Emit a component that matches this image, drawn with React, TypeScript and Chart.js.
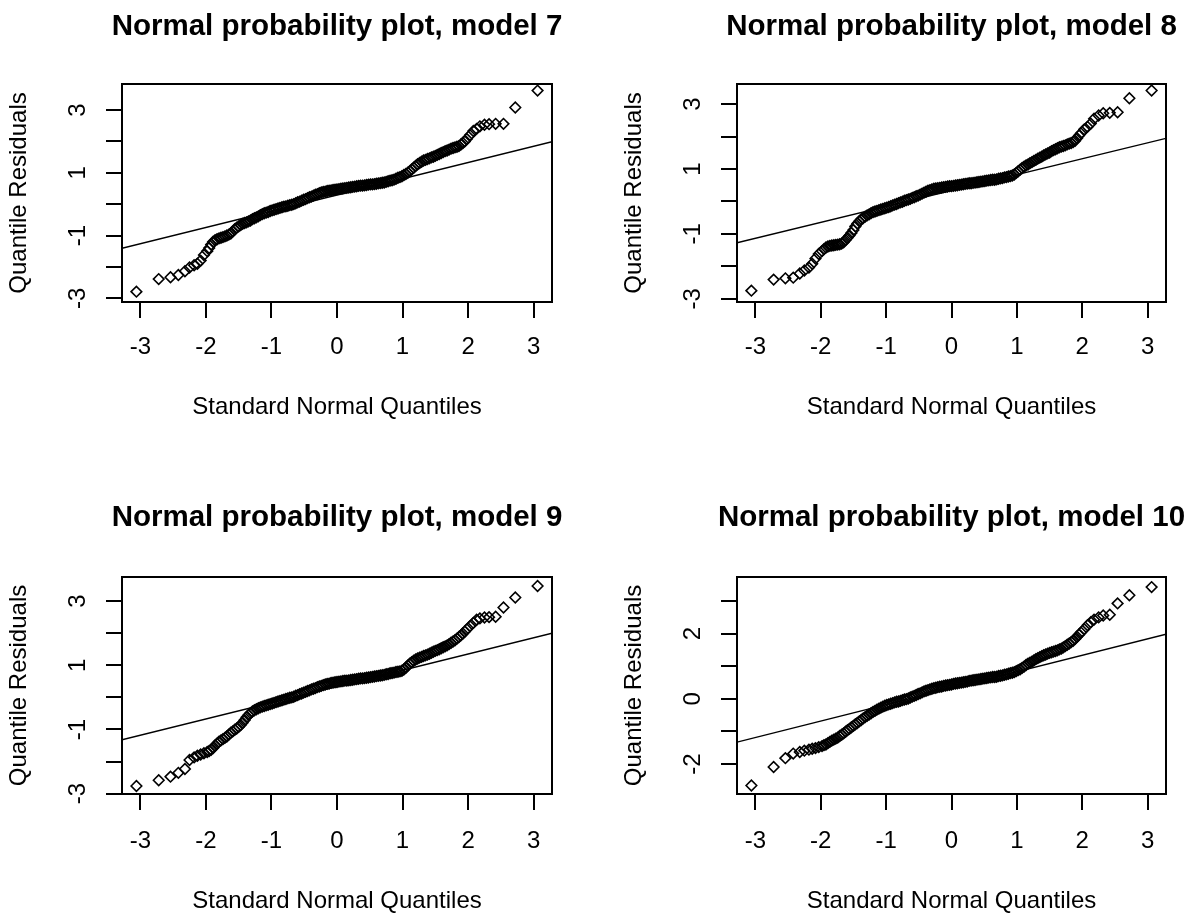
import React, { useEffect, useRef } from "react";
import { Chart, registerables } from "chart.js";

Chart.register(...registerables);

const FONT = "'Liberation Sans', Arial, Helvetica, sans-serif";

// Theoretical standard normal quantiles (shared by all four models)
const QUANTILES = [
  -3.06, -2.72, -2.54, -2.42, -2.32, -2.25, -2.18, -2.13, -2.08, -2.03,
  -1.98, -1.95, -1.92, -1.89, -1.86, -1.83, -1.80, -1.77, -1.74, -1.71, -1.68,
  -1.65, -1.62, -1.59, -1.56, -1.53, -1.50, -1.47, -1.44, -1.41, -1.38, -1.35,
  -1.32, -1.29, -1.26, -1.23, -1.20, -1.17, -1.14, -1.11, -1.08, -1.05, -1.02,
  -0.99, -0.96, -0.93, -0.90, -0.87, -0.84, -0.81, -0.78, -0.75, -0.72, -0.69,
  -0.66, -0.63, -0.60, -0.57, -0.54, -0.51, -0.48, -0.45, -0.42, -0.39, -0.36,
  -0.33, -0.30, -0.27, -0.24, -0.21, -0.18, -0.15, -0.12, -0.09, -0.06, -0.03,
  0.00, 0.03, 0.06, 0.09, 0.12, 0.15, 0.18, 0.21, 0.24, 0.27, 0.30,
  0.33, 0.36, 0.39, 0.42, 0.45, 0.48, 0.51, 0.54, 0.57, 0.60, 0.63,
  0.66, 0.69, 0.72, 0.75, 0.78, 0.81, 0.84, 0.87, 0.90, 0.93, 0.96,
  0.99, 1.02, 1.05, 1.08, 1.11, 1.14, 1.17, 1.20, 1.23, 1.26, 1.29,
  1.32, 1.35, 1.38, 1.41, 1.44, 1.47, 1.50, 1.53, 1.56, 1.59, 1.62,
  1.65, 1.68, 1.71, 1.74, 1.77, 1.80, 1.83, 1.86, 1.89, 1.92, 1.95,
  1.98, 2.03, 2.08, 2.13, 2.18, 2.25, 2.32, 2.42, 2.54, 2.72, 3.06,
];

// Sorted quantile residuals, one array per model
const RESID_M7 = [
  -2.79, -2.39, -2.33, -2.26, -2.14, -2.02, -1.95, -1.90, -1.80, -1.62,
  -1.50, -1.40, -1.29, -1.20, -1.15, -1.12, -1.09, -1.07, -1.05, -1.03, -1.00,
  -0.97, -0.94, -0.87, -0.80, -0.75, -0.71, -0.67, -0.63, -0.60, -0.58, -0.55,
  -0.52, -0.48, -0.45, -0.42, -0.39, -0.35, -0.32, -0.29, -0.27, -0.25, -0.22,
  -0.20, -0.18, -0.16, -0.14, -0.12, -0.10, -0.08, -0.07, -0.05, -0.03, -0.02,
  0.00, 0.03, 0.06, 0.08, 0.11, 0.14, 0.16, 0.19, 0.22, 0.24, 0.27,
  0.30, 0.32, 0.35, 0.37, 0.39, 0.40, 0.42, 0.43, 0.44, 0.45, 0.46,
  0.47, 0.48, 0.49, 0.50, 0.51, 0.52, 0.53, 0.54, 0.55, 0.56, 0.57,
  0.58, 0.59, 0.59, 0.60, 0.61, 0.62, 0.63, 0.63, 0.64, 0.65, 0.66,
  0.67, 0.68, 0.69, 0.71, 0.73, 0.75, 0.76, 0.78, 0.81, 0.84, 0.86,
  0.89, 0.93, 0.96, 1.00, 1.05, 1.11, 1.16, 1.22, 1.27, 1.31, 1.35,
  1.39, 1.41, 1.44, 1.46, 1.49, 1.51, 1.54, 1.57, 1.60, 1.63, 1.66,
  1.69, 1.71, 1.74, 1.77, 1.79, 1.81, 1.83, 1.85, 1.90, 1.95, 2.00,
  2.08, 2.20, 2.33, 2.40, 2.48, 2.53, 2.55, 2.56, 2.56, 3.08, 3.62,
];

const RESID_M8 = [
  -2.75, -2.41, -2.37, -2.35, -2.22, -2.13, -2.04, -1.92, -1.76, -1.62,
  -1.53, -1.47, -1.42, -1.39, -1.37, -1.36, -1.35, -1.34, -1.33, -1.32, -1.30,
  -1.26, -1.19, -1.12, -1.05, -0.97, -0.88, -0.77, -0.68, -0.61, -0.55, -0.51,
  -0.47, -0.43, -0.40, -0.36, -0.33, -0.31, -0.29, -0.27, -0.25, -0.23, -0.21,
  -0.19, -0.17, -0.15, -0.12, -0.10, -0.08, -0.05, -0.03, -0.01, 0.02, 0.04,
  0.06, 0.08, 0.11, 0.13, 0.16, 0.18, 0.21, 0.24, 0.27, 0.30, 0.33,
  0.35, 0.37, 0.39, 0.40, 0.41, 0.42, 0.43, 0.44, 0.45, 0.46, 0.47,
  0.47, 0.48, 0.49, 0.50, 0.51, 0.52, 0.53, 0.54, 0.55, 0.56, 0.56,
  0.57, 0.58, 0.59, 0.60, 0.61, 0.62, 0.63, 0.64, 0.65, 0.66, 0.67,
  0.67, 0.68, 0.70, 0.71, 0.72, 0.74, 0.75, 0.77, 0.78, 0.80, 0.83,
  0.88, 0.93, 0.98, 1.03, 1.07, 1.11, 1.14, 1.18, 1.21, 1.25, 1.28,
  1.32, 1.35, 1.38, 1.42, 1.45, 1.48, 1.51, 1.55, 1.58, 1.61, 1.64,
  1.67, 1.69, 1.71, 1.73, 1.76, 1.78, 1.80, 1.83, 1.87, 1.95, 2.03,
  2.10, 2.22, 2.30, 2.40, 2.55, 2.65, 2.72, 2.73, 2.75, 3.18, 3.42,
];

const RESID_M9 = [
  -2.76, -2.58, -2.47, -2.35, -2.23, -1.95, -1.87, -1.82, -1.78, -1.74,
  -1.70, -1.67, -1.63, -1.58, -1.50, -1.44, -1.38, -1.34, -1.30, -1.26, -1.22,
  -1.16, -1.10, -1.06, -1.01, -0.97, -0.92, -0.86, -0.79, -0.71, -0.62, -0.55,
  -0.49, -0.44, -0.40, -0.37, -0.34, -0.31, -0.29, -0.27, -0.25, -0.23, -0.21,
  -0.19, -0.17, -0.15, -0.13, -0.11, -0.09, -0.07, -0.05, -0.03, -0.01, 0.00,
  0.02, 0.05, 0.07, 0.10, 0.12, 0.15, 0.17, 0.20, 0.22, 0.25, 0.27,
  0.29, 0.32, 0.34, 0.36, 0.38, 0.40, 0.42, 0.43, 0.45, 0.46, 0.47,
  0.48, 0.49, 0.50, 0.51, 0.52, 0.52, 0.53, 0.54, 0.55, 0.56, 0.57,
  0.58, 0.59, 0.59, 0.60, 0.61, 0.62, 0.63, 0.64, 0.65, 0.66, 0.67,
  0.68, 0.69, 0.70, 0.72, 0.73, 0.75, 0.76, 0.77, 0.79, 0.80, 0.81,
  0.83, 0.87, 0.92, 0.99, 1.05, 1.10, 1.14, 1.18, 1.21, 1.24, 1.26,
  1.29, 1.31, 1.33, 1.36, 1.39, 1.42, 1.45, 1.47, 1.50, 1.53, 1.56,
  1.59, 1.62, 1.66, 1.70, 1.74, 1.78, 1.83, 1.88, 1.93, 1.99, 2.05,
  2.12, 2.22, 2.32, 2.42, 2.46, 2.49, 2.50, 2.51, 2.80, 3.11, 3.47,
];

const RESID_M10 = [
  -2.66, -2.09, -1.82, -1.68, -1.63, -1.59, -1.56, -1.53, -1.51, -1.48,
  -1.45, -1.42, -1.40, -1.36, -1.32, -1.28, -1.25, -1.22, -1.19, -1.14, -1.10,
  -1.06, -1.01, -0.96, -0.92, -0.87, -0.83, -0.78, -0.74, -0.69, -0.65, -0.60,
  -0.56, -0.52, -0.48, -0.44, -0.40, -0.37, -0.33, -0.30, -0.27, -0.24, -0.21,
  -0.19, -0.17, -0.15, -0.13, -0.11, -0.09, -0.08, -0.06, -0.04, -0.02, -0.01,
  0.01, 0.04, 0.07, 0.09, 0.12, 0.15, 0.17, 0.20, 0.23, 0.25, 0.27,
  0.29, 0.31, 0.33, 0.34, 0.36, 0.37, 0.38, 0.40, 0.41, 0.42, 0.43,
  0.44, 0.46, 0.47, 0.48, 0.49, 0.50, 0.51, 0.52, 0.53, 0.55, 0.56,
  0.57, 0.58, 0.59, 0.60, 0.61, 0.62, 0.63, 0.64, 0.65, 0.66, 0.67,
  0.67, 0.68, 0.70, 0.71, 0.72, 0.74, 0.75, 0.77, 0.79, 0.80, 0.82,
  0.85, 0.88, 0.91, 0.95, 0.99, 1.04, 1.08, 1.11, 1.14, 1.18, 1.22,
  1.25, 1.28, 1.31, 1.34, 1.36, 1.39, 1.41, 1.43, 1.45, 1.47, 1.49,
  1.52, 1.54, 1.58, 1.62, 1.66, 1.70, 1.74, 1.78, 1.84, 1.91, 1.97,
  2.04, 2.14, 2.26, 2.35, 2.43, 2.50, 2.56, 2.58, 2.93, 3.18, 3.43,
];

const MODEL_NAMES = ["model 7", "model 8", "model 9", "model 10"];
const RESIDUALS = [RESID_M7, RESID_M8, RESID_M9, RESID_M10];

// Reference lines through the quartiles
const QQLINE_INTERCEPT = [0.2925, 0.335, 0.34, 0.327];
const QQLINE_SLOPE = [0.5175, 0.491, 0.506, 0.505];

// Axis ranges and labelled y ticks
const X_MIN = -3.28;
const X_MAX = 3.28;
const Y_MIN = [-3.12, -3.1, -3.01, -2.92];
const Y_MAX = [3.83, 3.62, 3.75, 3.74];
const Y_LABELLED = [
  [-3, -1, 1, 3],
  [-3, -1, 1, 3],
  [-3, -1, 1, 3],
  [-2, 0, 2],
];

// Left margin of each panel (y axis + labels); mirrored on the right so the
// title is centred over the plot box
const SIDE = 122;

// Panel placement on the page (pixels); box is the plot frame inside the canvas
const PANELS = [
  { left: 0, top: 0, boxW: 430, height: 493, boxT: 84, boxB: 302, titleCenter: 26.5, xLabelGap: 45.3, xTitleGap: 105 },
  { left: 615, top: 0, boxW: 429, height: 493, boxT: 84, boxB: 302, titleCenter: 26.5, xLabelGap: 45.3, xTitleGap: 105 },
  { left: 0, top: 493, boxW: 430, height: 426, boxT: 84, boxB: 301, titleCenter: 25, xLabelGap: 47.5, xTitleGap: 107.7 },
  { left: 615, top: 493, boxW: 429, height: 426, boxT: 84, boxB: 301, titleCenter: 25, xLabelGap: 47.5, xTitleGap: 107.7 },
];

const TITLE_SIZE = 29.5;
const AXIS_SIZE = 24;
const TICK_LEN = 16;
const Y_LABEL_GAP = 44;
const Y_TITLE_CENTER = 19;

const frame = {
  id: "frame",
  afterDraw(chart: any) {
    const { ctx, chartArea } = chart;
    ctx.save();
    ctx.strokeStyle = "#000";
    ctx.lineWidth = 2;
    ctx.strokeRect(chartArea.left, chartArea.top, chartArea.right - chartArea.left, chartArea.bottom - chartArea.top);
    ctx.restore();
  },
};

function QQPanel({ index }: { index: number }) {
  const ref = useRef<HTMLCanvasElement | null>(null);
  const p = PANELS[index];
  const width = SIDE * 2 + p.boxW;

  useEffect(() => {
    const canvas = ref.current;
    if (!canvas) return;
    const resid = RESIDUALS[index];
    const points = QUANTILES.map((q, i) => ({ x: q, y: resid[i] }));
    const a = QQLINE_INTERCEPT[index];
    const b = QQLINE_SLOPE[index];
    const line = [
      { x: X_MIN, y: a + b * X_MIN },
      { x: X_MAX, y: a + b * X_MAX },
    ];
    const labelled = Y_LABELLED[index];
    const axisLine = AXIS_SIZE * 1.2;
    const titleLine = TITLE_SIZE * 1.2;
    const widest = AXIS_SIZE * 0.889;

    const chart = new Chart(canvas, {
      type: "scatter",
      data: {
        datasets: [
          {
            data: line,
            showLine: true,
            borderColor: "#000",
            borderWidth: 1.4,
            pointRadius: 0,
            order: 0,
          },
          {
            data: points,
            showLine: false,
            pointStyle: "rectRot",
            pointRadius: 5.3,
            pointBorderWidth: 1.6,
            pointBorderColor: "#000",
            pointBackgroundColor: "rgba(0,0,0,0)",
            order: 1,
          },
        ],
      },
      options: {
        animation: false,
        responsive: false,
        devicePixelRatio: 1,
        events: [],
        layout: { padding: 0 },
        plugins: {
          legend: { display: false },
          tooltip: { enabled: false },
          title: {
            display: true,
            text: `Normal probability plot, ${MODEL_NAMES[index]}`,
            fullSize: true,
            color: "#000",
            font: { family: FONT, size: TITLE_SIZE, weight: "bold" },
            padding: { top: p.titleCenter - titleLine / 2, bottom: p.boxT - p.titleCenter - titleLine / 2 },
          },
        },
        scales: {
          x: {
            type: "linear",
            min: X_MIN,
            max: X_MAX,
            afterFit: (s: any) => {
              s.height = p.height - p.boxB;
            },
            ticks: {
              stepSize: 1,
              includeBounds: false,
              autoSkip: false,
              minRotation: 0,
              maxRotation: 0,
              color: "#000",
              font: { family: FONT, size: AXIS_SIZE },
              padding: p.xLabelGap - TICK_LEN - axisLine / 2,
              callback: (v: any) => String(v),
            },
            grid: { drawOnChartArea: false, drawTicks: true, tickLength: TICK_LEN, color: "#000", lineWidth: 2 },
            border: { display: true, color: "#000", width: 2 },
            title: {
              display: true,
              text: "Standard Normal Quantiles",
              color: "#000",
              font: { family: FONT, size: AXIS_SIZE },
              padding: { top: 0, bottom: p.height - p.boxB - p.xTitleGap - axisLine / 2 },
            },
          },
          y: {
            type: "linear",
            min: Y_MIN[index],
            max: Y_MAX[index],
            afterFit: (s: any) => {
              s.width = SIDE;
            },
            ticks: {
              stepSize: 1,
              includeBounds: false,
              autoSkip: false,
              minRotation: 90,
              maxRotation: 90,
              crossAlign: "center",
              color: "#000",
              font: { family: FONT, size: AXIS_SIZE },
              padding: Y_LABEL_GAP - TICK_LEN - widest / 2,
              callback: (v: any) => (labelled.includes(Number(v)) ? String(v) : ""),
            },
            grid: { drawOnChartArea: false, drawTicks: true, tickLength: TICK_LEN, color: "#000", lineWidth: 2 },
            border: { display: true, color: "#000", width: 2 },
            title: {
              display: true,
              text: "Quantile Residuals",
              color: "#000",
              font: { family: FONT, size: AXIS_SIZE },
              padding: { top: Y_TITLE_CENTER - axisLine / 2, bottom: 0 },
            },
          },
          // empty right-hand spacer matching the left margin
          spacer: {
            type: "linear",
            position: "right",
            display: true,
            afterFit: (s: any) => {
              s.width = SIDE;
            },
            ticks: { display: false },
            grid: { display: false },
            border: { display: false },
          },
        },
      } as any,
      plugins: [frame],
    });
    return () => chart.destroy();
  }, [index]);

  return (
    <canvas
      ref={ref}
      width={width}
      height={p.height}
      style={{ position: "absolute", left: p.left, top: p.top, width, height: p.height, display: "block" }}
    />
  );
}

export default function App() {
  return (
    <div
      style={{
        position: "absolute",
        left: 0,
        top: 0,
        width: 1196,
        height: 919,
        background: "#fff",
        overflow: "hidden",
      }}
    >
      {[0, 1, 2, 3].map((i) => (
        <QQPanel key={i} index={i} />
      ))}
    </div>
  );
}
